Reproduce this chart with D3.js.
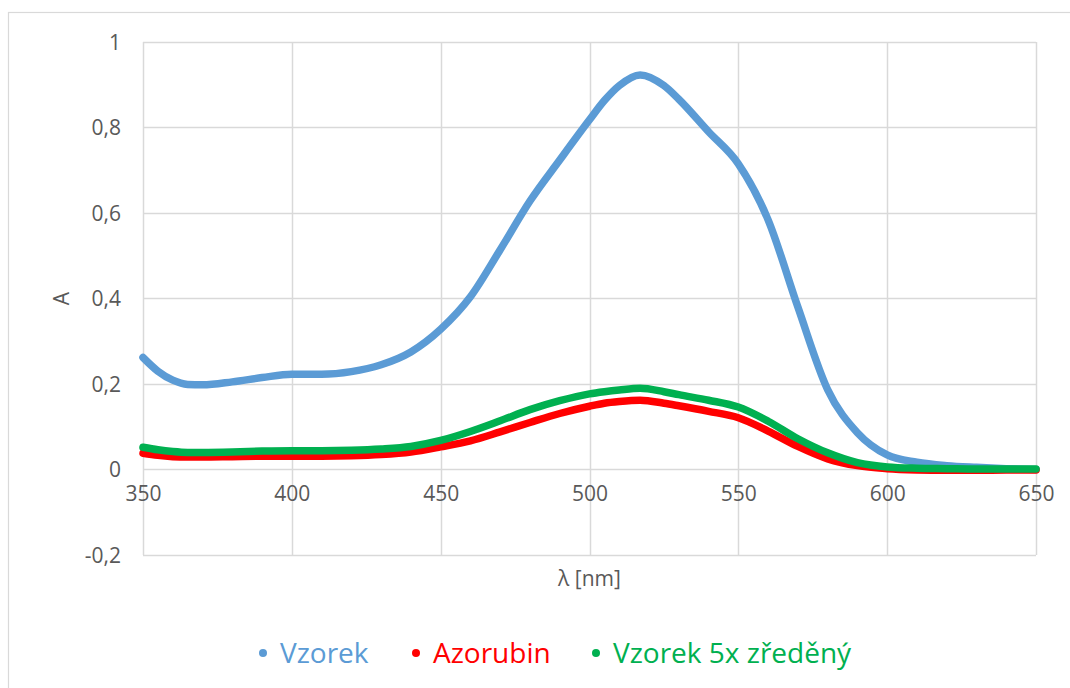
<!DOCTYPE html>
<html>
<head>
<meta charset="utf-8">
<script src="https://cdn.jsdelivr.net/npm/d3@7"></script>
<style>
  html, body { margin: 0; padding: 0; background: #fff; }
  svg { display: block; font-family: "Open Sans", "Noto Sans", sans-serif; }
</style>
</head>
<body>
<svg id="chart" width="1070" height="688"></svg>
<script>
// Absorption spectra, wavelength in nm
const wavelengths = [350, 355, 360, 365, 370, 380, 390, 400, 410, 420, 430, 440, 450, 460, 470, 480, 490, 500, 505, 510, 517, 525, 530, 540, 550, 560, 570, 580, 590, 600, 610, 620, 630, 640, 650];

const vzorek   = [0.262, 0.230, 0.209, 0.199, 0.198, 0.205, 0.215, 0.223, 0.223, 0.229, 0.245, 0.275, 0.328, 0.404, 0.514, 0.628, 0.724, 0.818, 0.863, 0.898, 0.923, 0.898, 0.866, 0.790, 0.715, 0.584, 0.380, 0.187, 0.086, 0.034, 0.017, 0.009, 0.005, 0.002, 0.000];
const azorubin = [0.038, 0.033, 0.030, 0.029, 0.029, 0.030, 0.031, 0.031, 0.031, 0.032, 0.035, 0.041, 0.053, 0.067, 0.088, 0.110, 0.131, 0.148, 0.155, 0.159, 0.162, 0.155, 0.149, 0.136, 0.121, 0.090, 0.054, 0.025, 0.009, 0.002, -0.001, -0.002, -0.002, -0.001, -0.001];
const zredeny  = [0.052, 0.046, 0.042, 0.040, 0.040, 0.041, 0.043, 0.044, 0.044, 0.045, 0.048, 0.054, 0.068, 0.089, 0.114, 0.140, 0.161, 0.177, 0.182, 0.186, 0.190, 0.182, 0.175, 0.162, 0.146, 0.113, 0.072, 0.039, 0.016, 0.006, 0.003, 0.002, 0.001, 0.001, 0.001];

const seriesNames = ["Vzorek", "Azorubin", "Vzorek 5x zředěný"];
const seriesColors = ["#5B9BD5", "#FF0000", "#00B050"];
const seriesValues = [vzorek, azorubin, zredeny];

const xTicks = [350, 400, 450, 500, 550, 600, 650];
const yTicks = [-0.2, 0, 0.2, 0.4, 0.6, 0.8, 1];

const svg = d3.select("#chart");

// chart frame
svg.append("rect")
  .attr("x", 8.5).attr("y", 12.5)
  .attr("width", 1080).attr("height", 700)
  .attr("fill", "none").attr("stroke", "#D9D9D9").attr("stroke-width", 1.2);

const plot = { left: 143, right: 1036, top: 42, bottom: 555 };

const x = d3.scaleLinear().domain([350, 650]).range([plot.left, plot.right]);
const y = d3.scaleLinear().domain([-0.2, 1]).range([plot.bottom, plot.top]);

// decimal comma, plain hyphen for negatives
const fmt = v => String(+v.toFixed(1)).replace(".", ",");

// gridlines
const grid = svg.append("g");
grid.selectAll("line.h").data(yTicks).join("line")
  .attr("x1", plot.left).attr("x2", plot.right)
  .attr("y1", d => Math.round(y(d)) + 0.5).attr("y2", d => Math.round(y(d)) + 0.5)
  .attr("stroke", "#D9D9D9").attr("stroke-width", 1.5);
grid.selectAll("line.v").data(xTicks).join("line")
  .attr("y1", plot.top).attr("y2", plot.bottom)
  .attr("x1", d => Math.round(x(d)) + 0.5).attr("x2", d => Math.round(x(d)) + 0.5)
  .attr("stroke", "#D9D9D9").attr("stroke-width", 1.5);

// y axis labels
const yAxis = d3.axisLeft(y).tickValues(yTicks).tickSize(0).tickPadding(0).tickFormat(fmt);
const gy = svg.append("g").attr("transform", `translate(${plot.left - 22},0)`).call(yAxis);
gy.select(".domain").remove();
gy.selectAll("text").attr("fill", "#595959").style("font-size", "21px")
  .style("font-family", "'Open Sans', sans-serif").attr("dy", "0.35em");

// x axis labels, placed below the zero line
const xAxis = d3.axisBottom(x).tickValues(xTicks).tickSize(0).tickPadding(0).tickFormat(d => d);
const gx = svg.append("g").attr("transform", `translate(0,${y(0) + 17})`).call(xAxis);
gx.select(".domain").remove();
gx.selectAll("text").attr("fill", "#595959").style("font-size", "21px")
  .style("font-family", "'Open Sans', sans-serif");

// axis titles
svg.append("text")
  .attr("x", (plot.left + plot.right) / 2).attr("y", 586)
  .attr("text-anchor", "middle").attr("fill", "#595959")
  .style("font-size", "21px").text("λ [nm]");
svg.append("text")
  .attr("transform", `translate(69,${(plot.top + plot.bottom) / 2}) rotate(-90)`)
  .attr("text-anchor", "middle").attr("fill", "#595959")
  .style("font-size", "21px").text("A");

// spectra
const line = d3.line()
  .x(d => x(d[0]))
  .y(d => y(d[1]))
  .curve(d3.curveMonotoneX);

seriesValues.forEach((vals, i) => {
  svg.append("path")
    .datum(wavelengths.map((w, j) => [w, vals[j]]))
    .attr("d", line)
    .attr("fill", "none")
    .attr("stroke", seriesColors[i])
    .attr("stroke-width", 7.5)
    .attr("stroke-linecap", "round")
    .attr("stroke-linejoin", "round");
});

// legend
const legendX = [263, 416, 596];
const legend = svg.append("g");
seriesNames.forEach((name, i) => {
  legend.append("circle")
    .attr("cx", legendX[i]).attr("cy", 653).attr("r", 4)
    .attr("fill", seriesColors[i]);
  legend.append("text")
    .attr("x", legendX[i] + 17).attr("y", 663)
    .attr("fill", seriesColors[i])
    .style("font-size", "28px")
    .text(name);
});
</script>
</body>
</html>
